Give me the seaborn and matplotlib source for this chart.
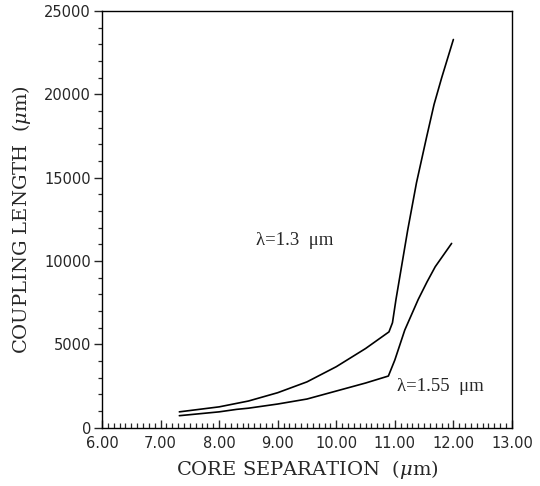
import matplotlib
matplotlib.use("Agg")
import matplotlib.pyplot as plt
from matplotlib.ticker import MultipleLocator, FormatStrFormatter
import seaborn as sns
import pandas as pd

# Data
sep_13 = [7.32, 8.0, 8.3, 8.5, 9.0, 9.5, 10.0, 10.5, 10.9, 10.96, 11.02, 11.22, 11.37, 11.54, 11.67, 11.8, 12.0]
len_13 = [950, 1250, 1460, 1600, 2100, 2750, 3660, 4750, 5750, 6300, 7700, 11860, 14700, 17400, 19400, 21000, 23300]
sep_155 = [7.32, 8.0, 8.3, 8.5, 9.0, 9.5, 10.0, 10.5, 10.89, 11.0, 11.17, 11.4, 11.55, 11.69, 11.97]
len_155 = [720, 950, 1100, 1170, 1420, 1720, 2200, 2680, 3100, 4060, 5860, 7700, 8750, 9660, 11060]

xticks = [6, 7, 8, 9, 10, 11, 12, 13]
yticks = [0, 5000, 10000, 15000, 20000, 25000]

df = pd.concat([
    pd.DataFrame({"sep": sep_13, "len": len_13, "wl": "1.3"}),
    pd.DataFrame({"sep": sep_155, "len": len_155, "wl": "1.55"}),
])

sns.set_style("ticks")
plt.rcParams["font.family"] = ["DejaVu Sans"]
plt.rcParams["mathtext.fontset"] = "dejavuserif"

fig = plt.figure(figsize=(5.4, 4.86), dpi=100)
ax = fig.add_axes([0.189, 0.120, 0.759, 0.857])

sns.lineplot(data=df, x="sep", y="len", units="wl", estimator=None,
             color="black", linewidth=1.2, sort=False, ax=ax)

ax.set_xlim(6, 13)
ax.set_ylim(0, 25000)
ax.set_xticks(xticks)
ax.set_yticks(yticks)
ax.xaxis.set_major_formatter(FormatStrFormatter("%.2f"))
ax.xaxis.set_minor_locator(MultipleLocator(0.1))
ax.yaxis.set_minor_locator(MultipleLocator(1000))

ax.tick_params(axis="x", which="major", direction="in", length=6, width=1, labelsize=10.5, pad=6)
ax.tick_params(axis="x", which="minor", direction="in", length=3.5, width=0.9)
ax.tick_params(axis="y", which="major", direction="out", length=6, width=1, labelsize=10.5, pad=2)
ax.tick_params(axis="y", which="minor", direction="out", length=3, width=0.9)

for s in ax.spines.values():
    s.set_linewidth(1.0)
    s.set_color("black")

ax.set_xlabel("CORE SEPARATION  ($\\mu$m)", fontsize=14, labelpad=5,
              family="DejaVu Serif")
ax.set_ylabel("COUPLING LENGTH  ($\\mu$m)", fontsize=14, labelpad=8,
              family="DejaVu Serif")

ax.text(8.63, 11250, "λ=1.3  μm", fontsize=13.5, family="Liberation Serif", va="center")
ax.text(11.04, 2500, "λ=1.55  μm", fontsize=13.5, family="Liberation Serif", va="center")

fig.savefig("out.png", dpi=100, facecolor="white")
